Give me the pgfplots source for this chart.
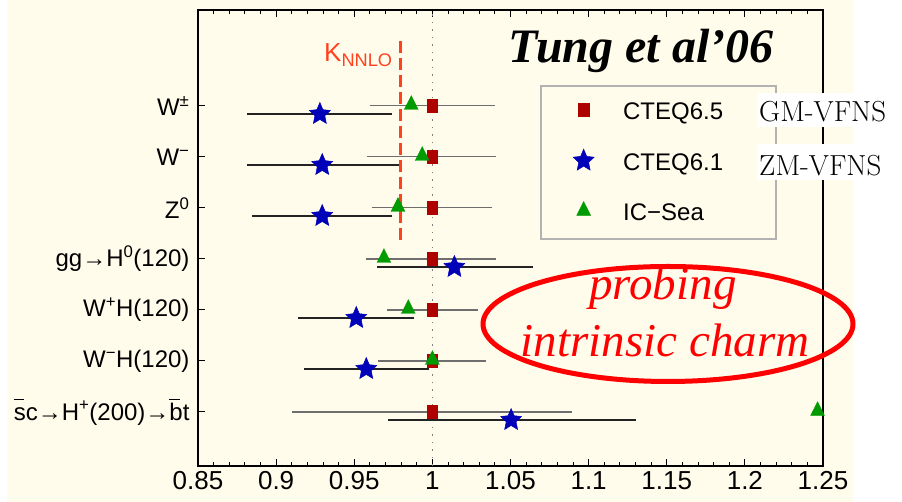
\documentclass[border=0pt]{standalone}
\usepackage{fontspec}
\usepackage{pgfplots}
\pgfplotsset{compat=1.18}
\newfontfamily\arial{Liberation Sans}
\newfontfamily\timesf{Liberation Serif}
\definecolor{cream}{RGB}{255,252,236}
\definecolor{sqred}{RGB}{175,0,0}
\definecolor{stblue}{RGB}{0,0,185}
\definecolor{trgreen}{RGB}{0,155,0}
\definecolor{knnlo}{RGB}{255,65,30}
\definecolor{barsgray}{RGB}{110,110,110}
\definecolor{barsdark}{RGB}{35,35,35}
\newcommand\barlet[1]{\makebox[0pt][l]{\raisebox{0.82em}{\rule{0.42em}{0.06em}}}#1}
% filled five-pointed star
\pgfdeclareplotmark{fstar}{%
  \pgfpathmoveto{\pgfpointpolar{90}{\pgfplotmarksize}}%
  \pgfpathlineto{\pgfpointpolar{126}{0.47\pgfplotmarksize}}%
  \pgfpathlineto{\pgfpointpolar{162}{\pgfplotmarksize}}%
  \pgfpathlineto{\pgfpointpolar{198}{0.47\pgfplotmarksize}}%
  \pgfpathlineto{\pgfpointpolar{234}{\pgfplotmarksize}}%
  \pgfpathlineto{\pgfpointpolar{270}{0.47\pgfplotmarksize}}%
  \pgfpathlineto{\pgfpointpolar{306}{\pgfplotmarksize}}%
  \pgfpathlineto{\pgfpointpolar{342}{0.47\pgfplotmarksize}}%
  \pgfpathlineto{\pgfpointpolar{18}{\pgfplotmarksize}}%
  \pgfpathlineto{\pgfpointpolar{54}{0.47\pgfplotmarksize}}%
  \pgfpathclose
  \pgfusepathqfillstroke}
\begin{document}
\begin{tikzpicture}[x=1pt,y=1pt]
% page and panel background
\fill[white] (0,0) rectangle (902,502);
\fill[cream] (7,0) rectangle (853,502);
\begin{axis}[
  at={(198pt,36pt)}, anchor=south west,
  scale only axis, width=625pt, height=456pt,
  xmin=0.85, xmax=1.25, ymin=-0.06, ymax=8.88,
  clip=false,
  axis line style={line width=2.5pt},
  tick align=inside,
  tick style={black, line width=1pt},
  major tick length=7pt, minor tick length=4pt,
  xtick={0.85,0.9,0.95,1,1.05,1.1,1.15,1.2,1.25},
  xticklabels={0.85,0.9,0.95,1,1.05,1.1,1.15,1.2,1.25},
  minor x tick num=4,
  xticklabel style={font=\arial\fontsize{26}{30}\selectfont, yshift=-2pt},
  ytick={1,2,3,4,5,6,7},
  yticklabels={
    {\barlet{s}c→H\textsuperscript{+}(200)→\barlet{b}t},
    {W\textsuperscript{−}H(120)},
    {W\textsuperscript{+}H(120)},
    {gg→H\textsuperscript{0}(120)},
    {Z\textsuperscript{0}},
    {W\textsuperscript{−}},
    {W\textsuperscript{±}}},
  yticklabel style={font=\arial\fontsize{24}{28}\selectfont, xshift=-5pt},
  ytick pos=left,
  legend style={draw=none, fill=none, at={(0.6,0.8048)}, anchor=north west,
    inner xsep=0pt, inner ysep=0pt, row sep=22pt, column sep=27pt,
    font=\arial\fontsize{24}{28}\selectfont,
    nodes={inner sep=2pt, text height=18pt, text depth=6pt}},
  legend cell align=left,
  legend image code/.code={\draw[mark repeat=2,mark phase=2,#1]
     plot coordinates {(0pt,0.36em) (12pt,0.36em) (24pt,0.36em)};},
]
% reference ratio line at 1
\addplot[forget plot, gray, line width=1pt, dash pattern=on 1.5pt off 6pt]
  coordinates {(1,-0.06) (1,8.88)};
% NNLO K-factor
\addplot[forget plot, knnlo, line width=3.5pt, dash pattern=on 12pt off 5pt]
  coordinates {(0.9795,4.37) (0.9795,8.35)};
% CTEQ6.5
\addplot[only marks, mark=square*, mark size=5.3pt,
  mark options={yscale=1.2, fill=sqred, draw=sqred},
  error bars/.cd, x dir=both, x explicit,
  error bar style={barsgray, line width=1.2pt},
  error mark options={barsgray, line width=1.2pt, mark size=3pt}]
  coordinates {
  (1.0,7) += (0.038,0) -= (0.038,0)
  (1.0,6) += (0.039,0) -= (0.040,0)
  (1.0,5) += (0.0365,0) -= (0.037,0)
  (1.0,4) += (0.039,0) -= (0.0404,0)
  (1.0,3) += (0.027,0) -= (0.027,0)
  (1.0,2) += (0.0325,0) -= (0.033,0)
  (1.0,1) += (0.0875,0) -= (0.0878,0)
  };
\addlegendentry{CTEQ6.5}
% CTEQ6.1
\addplot[only marks, mark=fstar, mark size=11pt,
  mark options={yscale=1.05, fill=stblue, draw=stblue, line width=0.5pt},
  error bars/.cd, x dir=both, x explicit,
  error bar style={barsdark, line width=1.2pt},
  error mark options={barsdark, line width=1.2pt, mark size=3pt}]
  coordinates {
  (0.928,6.84) += (0.044,0) -= (0.045,0)
  (0.9295,5.84) += (0.0475,0) -= (0.0465,0)
  (0.9295,4.84) += (0.043,0) -= (0.043,0)
  (1.0141,3.84) += (0.0481,0) -= (0.0474,0)
  (0.9513,2.84) += (0.035,0) -= (0.0355,0)
  (0.9577,1.84) += (0.0385,0) -= (0.038,0)
  (1.0504,0.84) += (0.0777,0) -= (0.0767,0)
  };
\addlegendentry{CTEQ6.1}
% IC-Sea
\addplot[only marks, mark=triangle*, mark size=8pt,
  mark options={yscale=1.15, fill=trgreen, draw=trgreen}]
  coordinates {
  (0.9865,7.02) (0.9935,6.02) (0.978,5.02) (0.969,4.02)
  (0.9846,3.02) (1.0,2.02) (1.2465,1.02)
  };
\addlegendentry{IC−Sea}
\end{axis}
% legend frame
\draw[gray!60, line width=1.2pt] (541,416) rectangle (776,263);
% scheme labels
\fill[white] (757,409) rectangle (902,375);
\node[anchor=base west, inner sep=0pt, font=\fontsize{29}{34}\selectfont] at (759,380) {GM-VFNS};
\fill[white] (757,358) rectangle (902,322);
\node[anchor=base west, inner sep=0pt, font=\fontsize{29}{34}\selectfont] at (759,326) {ZM-VFNS};
% K-factor label
\node[anchor=base west, inner sep=0pt, text=knnlo, font=\arial\fontsize{26}{30}\selectfont] at (324,440)
  {K\textsubscript{NNLO}};
% title
\node[anchor=base, inner sep=0pt, font=\timesf\bfseries\itshape\fontsize{48}{56}\selectfont] at (641,439)
  {Tung et al’06};
% annotation
\draw[red, line width=5pt] (668,178) ellipse [x radius=185, y radius=57.5];
\node[anchor=base, inner sep=0pt, text=red, font=\timesf\itshape\fontsize{47}{54}\selectfont] at (663,202) {probing};
\node[anchor=base, inner sep=0pt, text=red, font=\timesf\itshape\fontsize{47}{54}\selectfont] at (665,145) {intrinsic charm};
\end{tikzpicture}
\end{document}
